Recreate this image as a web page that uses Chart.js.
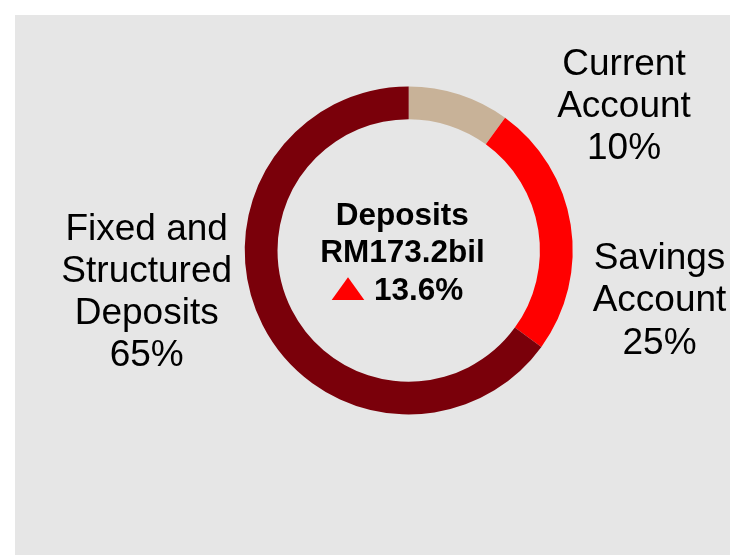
<!DOCTYPE html>
<html>
<head>
<meta charset="utf-8">
<script src="https://cdn.jsdelivr.net/npm/chart.js@4.4.1/dist/chart.umd.min.js"></script>
<style>
  html, body { margin: 0; padding: 0; background: #ffffff; }
  #wrap { position: relative; width: 730px; height: 555px; }
  canvas { display: block; }
</style>
</head>
<body>
<div id="wrap"><canvas id="c" width="730" height="555"></canvas></div>
<script>
// ---- data ----
const categories = ['Current Account', 'Savings Account', 'Fixed and Structured Deposits'];
const shares = [10, 25, 65];
const labelLines = [
  ['Current', 'Account'],
  ['Savings', 'Account'],
  ['Fixed and', 'Structured', 'Deposits']
];
const centerTitle = 'Deposits';
const centerTotal = 'RM173.2bil';
const centerGrowth = '13.6%';

// ---- styles ----
const colors = ['#C8B298', '#FF0000', '#7A000A'];
const FONT = '"Liberation Sans", Arial, Helvetica, sans-serif';

// label anchors: center x, first baseline (page px), line step
const labelAnchors = [
  { x: 624, y: 75, step: 42.2 },
  { x: 659.5, y: 268.5, step: 42.5 },
  { x: 146.7, y: 239.5, step: 42.2 }
];

const bgPlugin = {
  id: 'bg',
  beforeDraw(chart) {
    const ctx = chart.ctx;
    ctx.save();
    ctx.fillStyle = '#E6E6E6';
    ctx.fillRect(15, 15, chart.width - 15, chart.height - 15);
    ctx.restore();
  }
};

const textPlugin = {
  id: 'texts',
  afterDraw(chart) {
    const ctx = chart.ctx;
    ctx.save();
    ctx.fillStyle = '#000000';
    ctx.textAlign = 'center';
    ctx.textBaseline = 'alphabetic';
    ctx.font = '37px ' + FONT;
    categories.forEach((cat, i) => {
      const a = labelAnchors[i];
      const lines = labelLines[i].concat([shares[i] + '%']);
      lines.forEach((ln, j) => {
        ctx.fillText(ln, a.x, a.y + j * a.step);
      });
    });

    // center text
    ctx.font = 'bold 31.5px ' + FONT;
    ctx.fillText(centerTitle, 402.2, 224.5);
    ctx.fillText(centerTotal, 402.5, 262);
    ctx.textAlign = 'left';
    ctx.fillText(centerGrowth, 374, 300);
    // up triangle
    ctx.fillStyle = '#FF0000';
    ctx.beginPath();
    ctx.moveTo(331.7, 300);
    ctx.lineTo(364.3, 300);
    ctx.lineTo(348, 277.3);
    ctx.closePath();
    ctx.fill();
    ctx.restore();
  }
};

new Chart(document.getElementById('c'), {
  type: 'doughnut',
  data: {
    labels: categories,
    datasets: [{
      data: shares,
      backgroundColor: colors,
      borderWidth: 0,
      hoverOffset: 0
    }]
  },
  options: {
    responsive: false,
    animation: false,
    cutout: '80%',
    rotation: 0,
    layout: { padding: { left: 244.7, top: 86.5, right: 157.3, bottom: 140.5 } },
    plugins: {
      legend: { display: false },
      tooltip: { enabled: false }
    }
  },
  plugins: [bgPlugin, textPlugin]
});
</script>
</body>
</html>
